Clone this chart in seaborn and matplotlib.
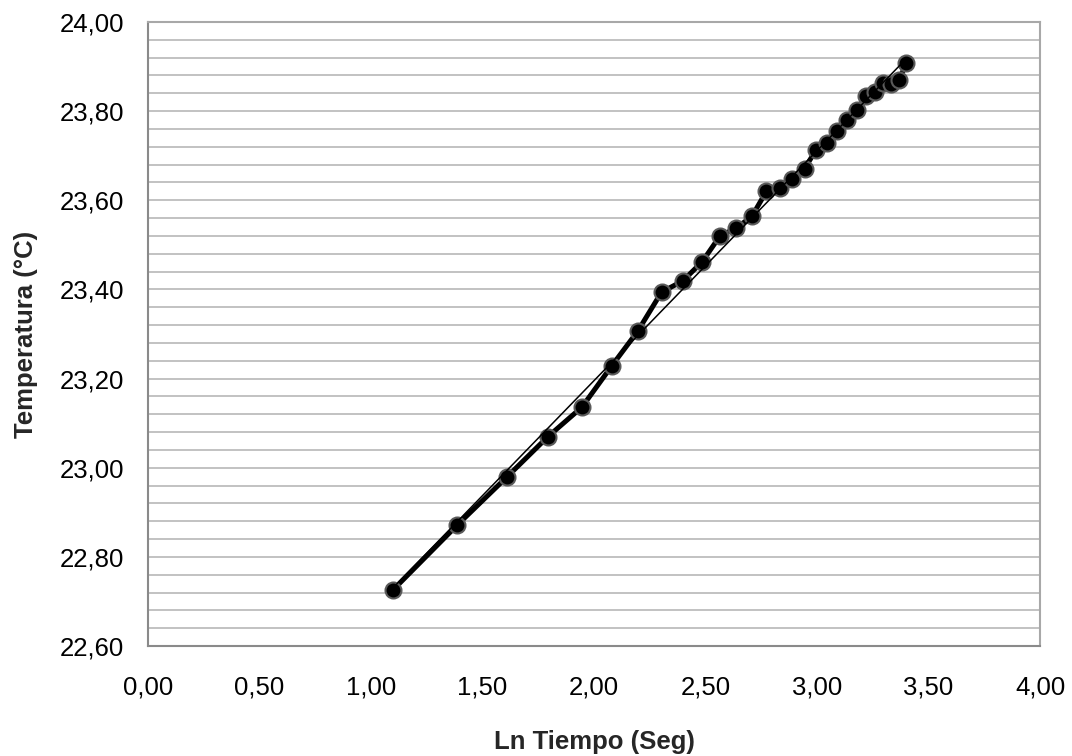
import matplotlib
matplotlib.use("Agg")
import matplotlib.pyplot as plt
import matplotlib.ticker as mticker
import numpy as np
import pandas as pd
import seaborn as sns

# Data
ln_tiempo = [1.099, 1.386, 1.609, 1.792, 1.946, 2.079, 2.197, 2.303, 2.398, 2.485,
             2.565, 2.639, 2.708, 2.773, 2.833, 2.890, 2.944, 2.996, 3.045, 3.091,
             3.135, 3.178, 3.219, 3.258, 3.296, 3.332, 3.367, 3.401]
temperatura = [22.726, 22.871, 22.979, 23.069, 23.136, 23.228, 23.307, 23.394, 23.419, 23.462,
               23.520, 23.538, 23.564, 23.620, 23.628, 23.648, 23.671, 23.713, 23.728, 23.755,
               23.780, 23.803, 23.833, 23.842, 23.863, 23.861, 23.870, 23.907]
x_label = "Ln Tiempo (Seg)"
y_label = "Temperatura (°C)"

df = pd.DataFrame({"x": ln_tiempo, "y": temperatura})

sns.set_theme(style="white")
plt.rcParams["font.family"] = ["Liberation Sans", "DejaVu Sans"]

fig = plt.figure(figsize=(10.72, 7.56), dpi=100)
ax = fig.add_axes([148 / 1072, 1 - 646 / 756, (1040 - 148) / 1072, (646 - 22) / 756])

sns.lineplot(data=df, x="x", y="y", ax=ax, color="black", linewidth=3.6,
             marker="o", markersize=11.5, markerfacecolor="black",
             markeredgecolor="#5a5a5a", markeredgewidth=1.5, zorder=3)
sns.regplot(data=df, x="x", y="y", ax=ax, scatter=False, ci=None, truncate=True,
            line_kws={"color": "black", "linewidth": 1.1, "zorder": 4})

ax.set_xlim(0, 4)
ax.set_ylim(22.6, 24.0)
ax.xaxis.set_major_locator(mticker.MultipleLocator(0.5))
ax.yaxis.set_major_locator(mticker.MultipleLocator(0.2))
ax.yaxis.set_minor_locator(mticker.MultipleLocator(0.04))
fmt = mticker.FuncFormatter(lambda v, p: f"{v:.2f}".replace(".", ","))
ax.xaxis.set_major_formatter(fmt)
ax.yaxis.set_major_formatter(fmt)

ax.grid(False)
ax.yaxis.grid(True, which="both", color="#bdbdbd", linewidth=1.3)
ax.set_axisbelow(True)

for side in ("left", "bottom"):
    ax.spines[side].set_color("#8a8a8a")
    ax.spines[side].set_linewidth(1.5)
for side in ("top", "right"):
    ax.spines[side].set_color("#a8a8a8")
    ax.spines[side].set_linewidth(1.5)

ax.tick_params(axis="both", which="major", direction="out", length=5, width=1.3,
               color="#8a8a8a", labelsize=18.5, labelcolor="black")
ax.tick_params(axis="y", which="major", pad=12)
ax.tick_params(axis="x", which="major", pad=16)
ax.tick_params(axis="both", which="minor", length=0)

ax.set_xlabel(x_label, fontsize=18.5, fontweight="bold", labelpad=22)
ax.set_ylabel(y_label, fontsize=18.5, fontweight="bold", labelpad=16)

fig.savefig("out.png", dpi=100, facecolor="white")
